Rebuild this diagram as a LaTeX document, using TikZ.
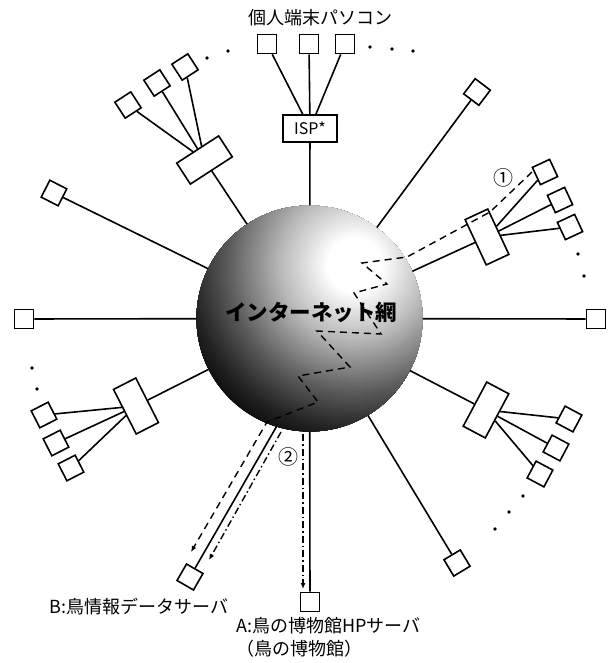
\documentclass[tikz,border=0pt]{standalone}
\usepackage{fontspec}
\setmainfont{Noto Sans CJK JP}
\usetikzlibrary{arrows.meta}
\begin{document}
\begin{tikzpicture}[x=1pt,y=-1pt,
  ln/.style={line width=1.6pt},
  pc/.style={draw, fill=white, line width=1.6pt, minimum size=19pt, inner sep=0pt},
  hub/.style={draw, fill=white, line width=1.6pt, minimum width=50pt, minimum height=25pt, inner sep=0pt},
  route1/.style={line width=1.4pt, dash pattern=on 7pt off 5pt},
  route2/.style={line width=1.4pt, dash pattern=on 7pt off 3pt on 1.5pt off 3pt},
  tip/.style={-{Latex[length=6pt,width=5pt]}},
  lbl/.style={inner sep=0pt, font=\fontsize{18}{23}\selectfont},
  numlbl/.style={inner sep=0pt, font=\fontsize{20}{22}\selectfont}]
\useasboundingbox (0,0) rectangle (608,663);

% sphere
\node[circle, minimum size=226pt, inner sep=0pt] (net) at (309.5,318.5) {};
\begin{scope}
  \clip (net.center) circle (113);
  \coordinate (hl) at (355,265);
  \foreach \r in {192,190,...,2} {
    \pgfmathsetmacro\g{\r<28 ? 0 : (\r<76 ? (\r-28)/48*28 : (\r<129 ? 28+(\r-76)/53*37 : (\r<167 ? 65+(\r-129)/38*22 : 87+(\r-167)/25*10)))}
    \fill[black!\g] (hl) circle (\r);
  }
\end{scope}

% top group
\node[pc] (t1) at (267,44) {};
\node[pc] (t2) at (309,44) {};
\node[pc] (t3) at (345,44) {};
\node[hub, minimum width=54pt, minimum height=27pt, font=\fontsize{16}{18}\selectfont] (isp) at (310,128.5) {ISP*};
\draw[ln] (t1) -- (isp); \draw[ln] (t2) -- (isp); \draw[ln] (t3) -- (isp);
\draw[ln] (isp) -- (net);
\node[lbl] (toplabel) at (320,18) {個人端末パソコン};

% upper-left group
\node[hub, rotate=33] (h1) at (204.5,160) {};
\node[pc, rotate=33] (a1) at (128,105) {};
\node[pc, rotate=33] (a2) at (157,83) {};
\node[pc, rotate=33] (a3) at (185,67) {};
\draw[ln] (a1) -- (h1); \draw[ln] (a2) -- (h1); \draw[ln] (a3) -- (h1);
\draw[ln] (h1) -- (net);

% single terminals
\node[pc, rotate=-27] (s1) at (54,193) {};
\draw[ln] (s1) -- (net);
\node[pc] (s2) at (24,319) {};
\draw[ln] (s2) -- (net);
\node[pc] (s3) at (596,319) {};
\draw[ln] (s3) -- (net);
\node[pc, rotate=53] (s4) at (477,92) {};
\draw[ln] (s4) -- (net);
\node[pc, rotate=31] (s5) at (457,563) {};
\draw[ln] (s5) -- (net);

% lower-left group
\node[hub, rotate=-63] (h2) at (136,406) {};
\node[pc, rotate=27] (b1) at (44,415) {};
\node[pc, rotate=27] (b2) at (56,443) {};
\node[pc, rotate=27] (b3) at (71,468) {};
\draw[ln] (b1) -- (h2); \draw[ln] (b2) -- (h2); \draw[ln] (b3) -- (h2);
\draw[ln] (h2) -- (net);

% upper-right group
\node[hub, rotate=-65] (h3) at (487,237) {};
\node[pc, rotate=25] (c1) at (545,172) {};
\node[pc, rotate=25] (c2) at (560,200) {};
\node[pc, rotate=25] (c3) at (570,227) {};
\draw[ln] (c1) -- (h3); \draw[ln] (c2) -- (h3); \draw[ln] (c3) -- (h3);
\draw[ln] (h3) -- (net);

% lower-right group
\node[hub, rotate=62] (h4) at (486,410) {};
\node[pc, rotate=-28] (d1) at (569,419) {};
\node[pc, rotate=-28] (d2) at (556,448) {};
\node[pc, rotate=-28] (d3) at (540,474) {};
\draw[ln] (d1) -- (h4); \draw[ln] (d2) -- (h4); \draw[ln] (d3) -- (h4);
\draw[ln] (h4) -- (net);

% servers
\node[pc, rotate=60] (B) at (190,577) {};
\draw[ln] (B) -- (net.-107.5);
\node[pc] (A) at (310,602) {};
\draw[ln] (A) -- (net);

% dots
\foreach \p in {(207,58),(228,51),(370,47),(392,49),(413,51),(578,254),(584,276),(32,368),(37,389),(523,496),(509,512),(495,529)}
  \fill \p circle (1.8);

% route 1 (dashed)
\coordinate (r0) at (532,172);
\coordinate (r1) at (490,212);
\coordinate (r2) at (407,257);
\coordinate (r3) at (362,263);
\coordinate (r4) at (387,284);
\coordinate (r5) at (354,293);
\coordinate (r6) at (381,334);
\coordinate (r7) at (317,331);
\coordinate (r8) at (350,367);
\coordinate (r9) at (298,376);
\coordinate (r10) at (318,402);
\coordinate (r11) at (267,422);
\coordinate (r12) at (191,552);
\draw[route1, tip] (r0) -- (r1) -- (r2) -- (r3) -- (r4) -- (r5) -- (r6) -- (r7) -- (r8) -- (r9) -- (r10) -- (r11) -- (r12);

% route 2 (dash-dot)
\coordinate (q0) at (281,432);
\coordinate (q1) at (209,560);
\draw[route2, tip] (q0) -- (q1);
\coordinate (p0) at (303,434);
\coordinate (p1) at (303,589);
\draw[route2, tip] (p0) -- (p1);

% labels
\node[font=\bfseries\fontsize{21.5}{24}\selectfont, inner sep=0pt] (netlabel) at (311,312) {インターネット網};
\node[numlbl] (m1) at (503,178) {①};
\node[numlbl] (m2) at (288,457) {②};
\node[lbl] (Blabel) at (139,607) {B:鳥情報データサーバ};
\node[lbl, align=left, anchor=north west] (Alabel) at (236,617) {A:鳥の博物館HPサーバ\\（鳥の博物館）};
\end{tikzpicture}
\end{document}
